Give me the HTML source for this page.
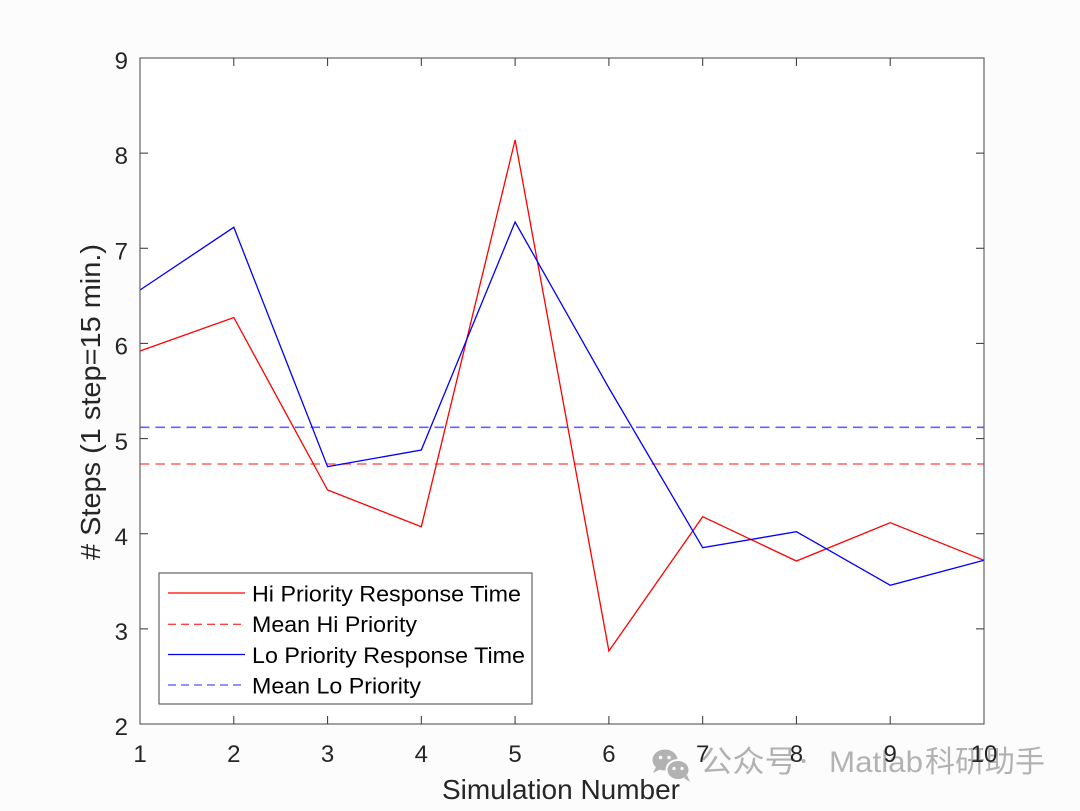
<!DOCTYPE html>
<html>
<head>
<meta charset="utf-8">
<style>
html,body{margin:0;padding:0;background:#fcfcfc;}
svg{display:block;}
text{font-family:"Liberation Sans","Noto Sans CJK SC",sans-serif;}
</style>
</head>
<body>
<svg width="1080" height="811" viewBox="0 0 1080 811" xmlns="http://www.w3.org/2000/svg">
<rect x="0" y="0" width="1080" height="811" fill="#fcfcfc"/>
<rect x="140" y="58" width="844" height="666" fill="#ffffff"/>

<!-- mean lines -->
<line x1="140" y1="427.3" x2="984" y2="427.3" stroke="#6060ff" stroke-width="1.6" stroke-dasharray="9.5,6"/>
<line x1="140" y1="464" x2="984" y2="464" stroke="#ff6060" stroke-width="1.6" stroke-dasharray="9.5,6"/>

<!-- series -->
<polyline fill="none" stroke="#ff0000" stroke-width="1.3" stroke-linejoin="miter"
 points="140,351 233.8,317.5 327.6,490 421.3,526.7 515.1,140 608.9,651 702.7,516.7 796.4,561 890.2,522.7 984,560.3"/>
<polyline fill="none" stroke="#0000ff" stroke-width="1.3" stroke-linejoin="miter"
 points="140,290 233.8,227.3 327.6,466.7 421.3,450 515.1,222 608.9,388 702.7,547.7 796.4,531.7 890.2,585.3 984,560.3"/>

<!-- axes box -->
<rect x="140" y="58" width="844" height="666" fill="none" stroke="#555555" stroke-width="1.1"/>

<!-- ticks -->
<g stroke="#444444" stroke-width="1.1">
<line x1="233.78" y1="724" x2="233.78" y2="716"/><line x1="233.78" y1="58" x2="233.78" y2="66"/>
<line x1="327.56" y1="724" x2="327.56" y2="716"/><line x1="327.56" y1="58" x2="327.56" y2="66"/>
<line x1="421.33" y1="724" x2="421.33" y2="716"/><line x1="421.33" y1="58" x2="421.33" y2="66"/>
<line x1="515.11" y1="724" x2="515.11" y2="716"/><line x1="515.11" y1="58" x2="515.11" y2="66"/>
<line x1="608.89" y1="724" x2="608.89" y2="716"/><line x1="608.89" y1="58" x2="608.89" y2="66"/>
<line x1="702.67" y1="724" x2="702.67" y2="716"/><line x1="702.67" y1="58" x2="702.67" y2="66"/>
<line x1="796.44" y1="724" x2="796.44" y2="716"/><line x1="796.44" y1="58" x2="796.44" y2="66"/>
<line x1="890.22" y1="724" x2="890.22" y2="716"/><line x1="890.22" y1="58" x2="890.22" y2="66"/>

<line x1="140" y1="628.86" x2="148" y2="628.86"/><line x1="984" y1="628.86" x2="976" y2="628.86"/>
<line x1="140" y1="533.71" x2="148" y2="533.71"/><line x1="984" y1="533.71" x2="976" y2="533.71"/>
<line x1="140" y1="438.57" x2="148" y2="438.57"/><line x1="984" y1="438.57" x2="976" y2="438.57"/>
<line x1="140" y1="343.43" x2="148" y2="343.43"/><line x1="984" y1="343.43" x2="976" y2="343.43"/>
<line x1="140" y1="248.29" x2="148" y2="248.29"/><line x1="984" y1="248.29" x2="976" y2="248.29"/>
<line x1="140" y1="153.14" x2="148" y2="153.14"/><line x1="984" y1="153.14" x2="976" y2="153.14"/>
</g>

<!-- watermark -->
<g fill="#b2b2b2">
<ellipse cx="665" cy="760" rx="12.5" ry="10.5"/>
<path d="M656,767 L653,773 L661,769 Z"/>
<ellipse cx="678" cy="770" rx="11.5" ry="10" stroke="#fcfcfc" stroke-width="2"/>
<path d="M684,778 L690,782 L687,775 Z"/>
</g>
<g fill="#fcfcfc">
<circle cx="660.5" cy="757.5" r="1.8"/><circle cx="669" cy="757.5" r="1.8"/>
<circle cx="674" cy="768.5" r="1.6"/><circle cx="682" cy="768.5" r="1.6"/>
</g>
<g fill="#b2b2b2" font-size="30" style="font-family:'Noto Sans CJK SC','Liberation Sans',sans-serif;">
<text x="700" y="772" textLength="97" lengthAdjust="spacingAndGlyphs">公众号</text>
<circle cx="803.5" cy="761" r="2"/>
<text x="829" y="772" textLength="94" lengthAdjust="spacingAndGlyphs">Matlab</text>
<text x="925" y="772" textLength="120" lengthAdjust="spacingAndGlyphs">科研助手</text>
</g>

<!-- tick labels -->
<g font-size="24" fill="#262626" text-anchor="middle">
<text x="140" y="762">1</text>
<text x="233.78" y="762">2</text>
<text x="327.56" y="762">3</text>
<text x="421.33" y="762">4</text>
<text x="515.11" y="762">5</text>
<text x="608.89" y="762">6</text>
<text x="702.67" y="762">7</text>
<text x="796.44" y="762">8</text>
<text x="890.22" y="762">9</text>
<text x="984" y="762">10</text>
</g>
<g font-size="24" fill="#262626" text-anchor="end">
<text x="128" y="735">2</text>
<text x="128" y="640">3</text>
<text x="128" y="545">4</text>
<text x="128" y="450">5</text>
<text x="128" y="354.5">6</text>
<text x="128" y="259.5">7</text>
<text x="128" y="164">8</text>
<text x="128" y="69">9</text>
</g>

<!-- axis labels -->
<text x="561" y="799" font-size="28" fill="#262626" text-anchor="middle" textLength="238" lengthAdjust="spacingAndGlyphs">Simulation Number</text>
<text transform="translate(100,402) rotate(-90)" x="0" y="0" font-size="28" fill="#262626" text-anchor="middle" textLength="316" lengthAdjust="spacingAndGlyphs"># Steps (1 step=15 min.)</text>

<!-- legend -->
<rect x="159" y="573" width="373" height="131" fill="#ffffff" stroke="#555555" stroke-width="1.1"/>
<line x1="168" y1="593" x2="245" y2="593" stroke="#ff0000" stroke-width="1.3"/>
<line x1="168" y1="624.3" x2="245" y2="624.3" stroke="#ff4040" stroke-width="1.3" stroke-dasharray="8,5"/>
<line x1="168" y1="654.5" x2="245" y2="654.5" stroke="#0000ff" stroke-width="1.3"/>
<line x1="168" y1="685" x2="245" y2="685" stroke="#5050ff" stroke-width="1.3" stroke-dasharray="8,5"/>
<g font-size="22" fill="#000000">
<text x="252" y="601.7" textLength="269" lengthAdjust="spacingAndGlyphs">Hi Priority Response Time</text>
<text x="252" y="632" textLength="165" lengthAdjust="spacingAndGlyphs">Mean Hi Priority</text>
<text x="252" y="663" textLength="273" lengthAdjust="spacingAndGlyphs">Lo Priority Response Time</text>
<text x="252" y="693.3" textLength="169" lengthAdjust="spacingAndGlyphs">Mean Lo Priority</text>
</g>
</svg>
</body>
</html>
